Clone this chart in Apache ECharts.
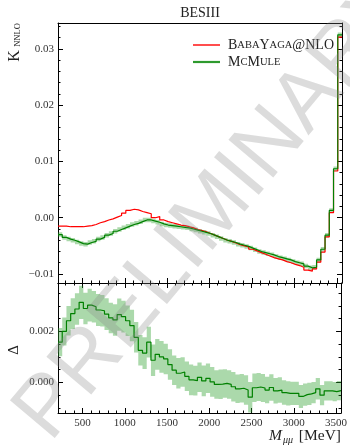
<!DOCTYPE html>
<html>
<head>
<meta charset="utf-8">
<script src="https://cdn.jsdelivr.net/npm/echarts@6/dist/echarts.min.js"></script>
</head>
<body style="margin:0">
<div id="main" style="width:350px;height:447px"></div>
<script>
// bin edges in MeV (50 MeV bins)
var binEdges = [210,260,310,360,410,460,510,560,610,660,
  710,760,810,860,910,960,1010,1060,1110,1160,
  1210,1260,1310,1360,1410,1460,1510,1560,1610,1660,
  1710,1760,1810,1860,1910,1960,2010,2060,2110,2160,
  2210,2260,2310,2360,2410,2460,2510,2560,2610,2660,
  2710,2760,2810,2860,2910,2960,3010,3060,3110,3160,
  3210,3260,3310,3360,3410,3460,3510,3560];

// K_NNLO, BabaYaga@NLO
var kBaba = [-0.0015,-0.0015,-0.0016,-0.0016,-0.0016,-0.0016,-0.0015,-0.0014,-0.0012,-0.0009,
  -0.0007,-0.0004,-0.0002,0.0001,0.0004,0.0008,0.0013,0.0015,0.0014,0.0011,
  0.0009,0.0007,0.0000,0.0002,-0.0004,-0.0007,-0.0009,-0.0011,-0.0013,-0.0014,
  -0.0016,-0.0018,-0.0021,-0.0023,-0.0025,-0.0028,-0.0031,-0.0034,-0.0037,-0.0040,
  -0.0042,-0.0045,-0.0048,-0.0050,-0.0052,-0.0056,-0.0059,-0.0062,-0.0065,-0.0068,
  -0.0071,-0.0073,-0.0075,-0.0078,-0.0080,-0.0083,-0.0085,-0.0088,-0.0093,-0.0095,
  -0.0091,-0.0079,-0.0061,-0.0034,0.0009,0.0083,0.0321];

// K_NNLO, McMule
var kMule = [-0.0030,-0.0035,-0.0038,-0.0040,-0.0043,-0.0046,-0.0047,-0.0044,-0.0042,-0.0038,
  -0.0035,-0.0031,-0.0028,-0.0024,-0.0021,-0.0018,-0.0015,-0.0012,-0.0010,-0.0007,
  -0.0004,-0.0004,-0.0006,-0.0008,-0.0011,-0.0013,-0.0014,-0.0015,-0.0016,-0.0017,
  -0.0018,-0.0020,-0.0022,-0.0024,-0.0026,-0.0028,-0.0031,-0.0034,-0.0037,-0.0040,
  -0.0042,-0.0044,-0.0047,-0.0049,-0.0051,-0.0054,-0.0057,-0.0060,-0.0062,-0.0064,
  -0.0066,-0.0069,-0.0071,-0.0073,-0.0075,-0.0078,-0.0080,-0.0082,-0.0086,-0.0089,
  -0.0088,-0.0075,-0.0056,-0.0031,0.0013,0.0087,0.0325];
var kMuleErr = 0.0004;

// Delta (lower panel)
var delta = [0.00158,0.00200,0.00242,0.00270,0.00288,0.00314,0.00290,0.00303,0.00297,0.00284,
  0.00281,0.00268,0.00253,0.00245,0.00266,0.00258,0.00242,0.00223,0.00177,0.00126,
  0.00115,0.00158,0.00087,0.00110,0.00100,0.00092,0.00070,0.00048,0.00036,0.00041,
  0.00024,0.00010,0.00007,0.00020,0.00006,0.00016,0.00002,-0.00008,-0.00007,-0.00004,
  -0.00008,-0.00017,-0.00025,-0.00023,-0.00030,-0.00058,-0.00021,-0.00018,-0.00022,-0.00030,
  -0.00020,-0.00033,-0.00030,-0.00040,-0.00043,-0.00043,-0.00043,-0.00055,-0.00048,-0.00045,
  -0.00040,-0.00025,-0.00050,-0.00033,-0.00033,-0.00036,-0.00032];
var deltaErr = [0.00055,0.00055,0.00058,0.00060,0.00062,0.00065,0.00062,0.00064,0.00062,0.00063,
  0.00062,0.00062,0.00060,0.00062,0.00063,0.00062,0.00060,0.00062,0.00060,0.00060,
  0.00062,0.00060,0.00062,0.00060,0.00062,0.00060,0.00060,0.00058,0.00060,0.00058,
  0.00058,0.00060,0.00058,0.00058,0.00060,0.00058,0.00058,0.00056,0.00058,0.00056,
  0.00056,0.00058,0.00056,0.00056,0.00058,0.00060,0.00056,0.00055,0.00055,0.00052,
  0.00052,0.00050,0.00050,0.00048,0.00048,0.00046,0.00046,0.00045,0.00044,0.00044,
  0.00042,0.00042,0.00040,0.00038,0.00038,0.00038,0.00038];

var serif = 'Liberation Serif';
var red = '#ff0000', green = '#008000', bandColor = 'rgba(44,160,44,0.4)';

var chart = echarts.init(document.getElementById('main'));

function stepData(vals) {
  var d = [];
  for (var i = 0; i < vals.length; i++) d.push([binEdges[i], vals[i]]);
  d.push([binEdges[vals.length], vals[vals.length - 1]]);
  return d;
}

// band drawn as one polygon through the axis scales
function bandRender(vals, err) {
  return function (params, api) {
    if (params.dataIndex !== 0) return;
    var up = [], lo = [];
    for (var i = 0; i < vals.length; i++) {
      var e = Array.isArray(err) ? err[i] : err;
      up.push(api.coord([binEdges[i], vals[i] + e]));
      up.push(api.coord([binEdges[i + 1], vals[i] + e]));
      lo.push(api.coord([binEdges[i], vals[i] - e]));
      lo.push(api.coord([binEdges[i + 1], vals[i] - e]));
    }
    return {
      type: 'polygon',
      shape: { points: up.concat(lo.reverse()) },
      style: { fill: bandColor }
    };
  };
}

// tick label text, only on multiples of the major step
function fmt(step, dec) {
  return function (v) {
    if (Math.abs(v / step - Math.round(v / step)) > 1e-6) return '';
    return (v < 0 ? '\u2212' : '') + Math.abs(v).toFixed(dec);
  };
}

var line = { onZero: false, lineStyle: { color: '#000', width: 1 } };
var tick = { inside: true, length: 5, lineStyle: { color: '#000' } };
var minor = function (n) {
  return { show: true, splitNumber: n, length: 2.5, lineStyle: { color: '#000' } };
};
var lbl = { color: '#333', fontFamily: serif, fontSize: 11 };

var xBase = { type: 'value', min: 210, max: 3560, splitNumber: 7, splitLine: { show: false }, axisLine: line };
var yTop = { type: 'value', gridIndex: 0, min: -0.0116, max: 0.0346, splitNumber: 5, splitLine: { show: false }, axisLine: line };
var yBot = { type: 'value', gridIndex: 1, min: -0.0012, max: 0.0039, splitNumber: 3, splitLine: { show: false }, axisLine: line };

var option = {
  animation: false,
  grid: [
    { left: 58, right: 8, top: 23, height: 260 },
    { left: 58, right: 8, top: 283, height: 130 }
  ],
  xAxis: [
    Object.assign({}, xBase, { gridIndex: 0, position: 'bottom', axisTick: tick, minorTick: minor(5), axisLabel: { show: false } }),
    Object.assign({}, xBase, { gridIndex: 0, position: 'top', axisTick: { show: false }, axisLabel: { show: false } }),
    Object.assign({}, xBase, { gridIndex: 1, position: 'bottom', axisTick: tick, minorTick: minor(5),
      axisLabel: Object.assign({}, lbl, { margin: 5, showMinLabel: false, showMaxLabel: false, formatter: fmt(500, 0) }) }),
    Object.assign({}, xBase, { gridIndex: 1, position: 'top', axisTick: tick, minorTick: minor(5), axisLabel: { show: false } })
  ],
  yAxis: [
    Object.assign({}, yTop, { position: 'left', axisTick: tick, minorTick: minor(5),
      axisLabel: Object.assign({}, lbl, { margin: 4, showMinLabel: false, showMaxLabel: false, formatter: fmt(0.01, 2) }) }),
    Object.assign({}, yTop, { position: 'right', axisTick: tick, minorTick: minor(5), axisLabel: { show: false } }),
    Object.assign({}, yBot, { position: 'left', axisTick: tick, minorTick: minor(4),
      axisLabel: Object.assign({}, lbl, { margin: 4, showMinLabel: false, showMaxLabel: false, formatter: fmt(0.002, 3) }) }),
    Object.assign({}, yBot, { position: 'right', axisTick: tick, minorTick: minor(4), axisLabel: { show: false } })
  ],
  legend: {
    orient: 'vertical', left: 188, top: 33, itemWidth: 27, itemHeight: 14, itemGap: 3,
    data: [
      { name: 'BabaYaga@NLO', icon: 'path://M0,0L27,0L27,1.4L0,1.4Z', itemStyle: { color: red } },
      { name: 'McMule', icon: 'path://M0,0L27,0L27,2.2L0,2.2Z', itemStyle: { color: '#2e9a2e' } }
    ],
    formatter: function (name) {
      if (name === 'McMule') return '{b|M}{s|C}{b|M}{s|ULE}';
      return '{b|B}{s|ABA}{b|Y}{s|AGA}{b|@NLO}';
    },
    textStyle: {
      padding: [0, 0, 0, 3],
      rich: {
        b: { fontFamily: serif, fontSize: 14, color: '#222', lineHeight: 14, verticalAlign: 'bottom' },
        s: { fontFamily: serif, fontSize: 10.5, color: '#222', lineHeight: 14, verticalAlign: 'bottom', padding: [0, 0, 1, 0] }
      }
    }
  },
  series: [
    { type: 'custom', xAxisIndex: 0, yAxisIndex: 0, silent: true, clip: true, z: 1,
      renderItem: bandRender(kMule, kMuleErr), data: [[binEdges[0], kMule[0]]] },
    { type: 'line', name: 'BabaYaga@NLO', xAxisIndex: 0, yAxisIndex: 0, step: 'end', symbol: 'none', z: 2,
      data: stepData(kBaba), lineStyle: { color: red, width: 1.2 }, itemStyle: { color: red } },
    { type: 'line', name: 'McMule', xAxisIndex: 0, yAxisIndex: 0, step: 'end', symbol: 'none', z: 3,
      data: stepData(kMule), lineStyle: { color: green, width: 1.2 }, itemStyle: { color: green } },
    { type: 'custom', xAxisIndex: 2, yAxisIndex: 2, silent: true, clip: true, z: 1,
      renderItem: bandRender(delta, deltaErr), data: [[binEdges[0], delta[0]]] },
    { type: 'line', name: 'delta', xAxisIndex: 2, yAxisIndex: 2, step: 'end', symbol: 'none', z: 3,
      data: stepData(delta), lineStyle: { color: green, width: 1.2 } }
  ],
  graphic: [
    { type: 'text', x: 200, y: 13, style: { text: 'BESIII', fontFamily: serif, fontSize: 14, fill: '#222',
      align: 'center', verticalAlign: 'middle', textAlign: 'center', textVerticalAlign: 'middle' } },
    { type: 'text', x: 15, y: 56, rotation: Math.PI / 2, style: { text: 'K', fontFamily: serif, fontSize: 16, fill: '#222',
      align: 'center', verticalAlign: 'middle', textAlign: 'center', textVerticalAlign: 'middle' } },
    { type: 'text', x: 18, y: 35, rotation: Math.PI / 2, style: { text: 'NNLO', fontFamily: serif, fontSize: 8.5, fill: '#222',
      align: 'center', verticalAlign: 'middle', textAlign: 'center', textVerticalAlign: 'middle' } },
    { type: 'text', x: 14, y: 350, rotation: Math.PI / 2, style: { text: '\u0394', fontFamily: serif, fontSize: 15, fill: '#222',
      align: 'center', verticalAlign: 'middle', textAlign: 'center', textVerticalAlign: 'middle' } },
    { type: 'text', x: 269, y: 436, style: { text: 'M', fontFamily: serif, fontStyle: 'italic', fontSize: 15.5, fill: '#222',
      align: 'left', verticalAlign: 'middle', textAlign: 'left', textVerticalAlign: 'middle' } },
    { type: 'text', x: 283, y: 440, style: { text: '\u03bc\u03bc', fontFamily: serif, fontStyle: 'italic', fontSize: 10, fill: '#222',
      align: 'left', verticalAlign: 'middle', textAlign: 'left', textVerticalAlign: 'middle' } },
    { type: 'text', x: 341, y: 436, style: { text: '[MeV]', fontFamily: serif, fontSize: 15.5, fill: '#222',
      align: 'right', verticalAlign: 'middle', textAlign: 'right', textVerticalAlign: 'middle' } },
    { type: 'text', x: 217, y: 208, rotation: 50 * Math.PI / 180, z: 100, silent: true,
      style: { text: 'PRELIMINARY', fontFamily: 'Liberation Sans', fontSize: 85, fill: 'rgba(128,128,128,0.28)',
        align: 'center', verticalAlign: 'middle', textAlign: 'center', textVerticalAlign: 'middle' } }
  ]
};

chart.setOption(option);
</script>
</body>
</html>
